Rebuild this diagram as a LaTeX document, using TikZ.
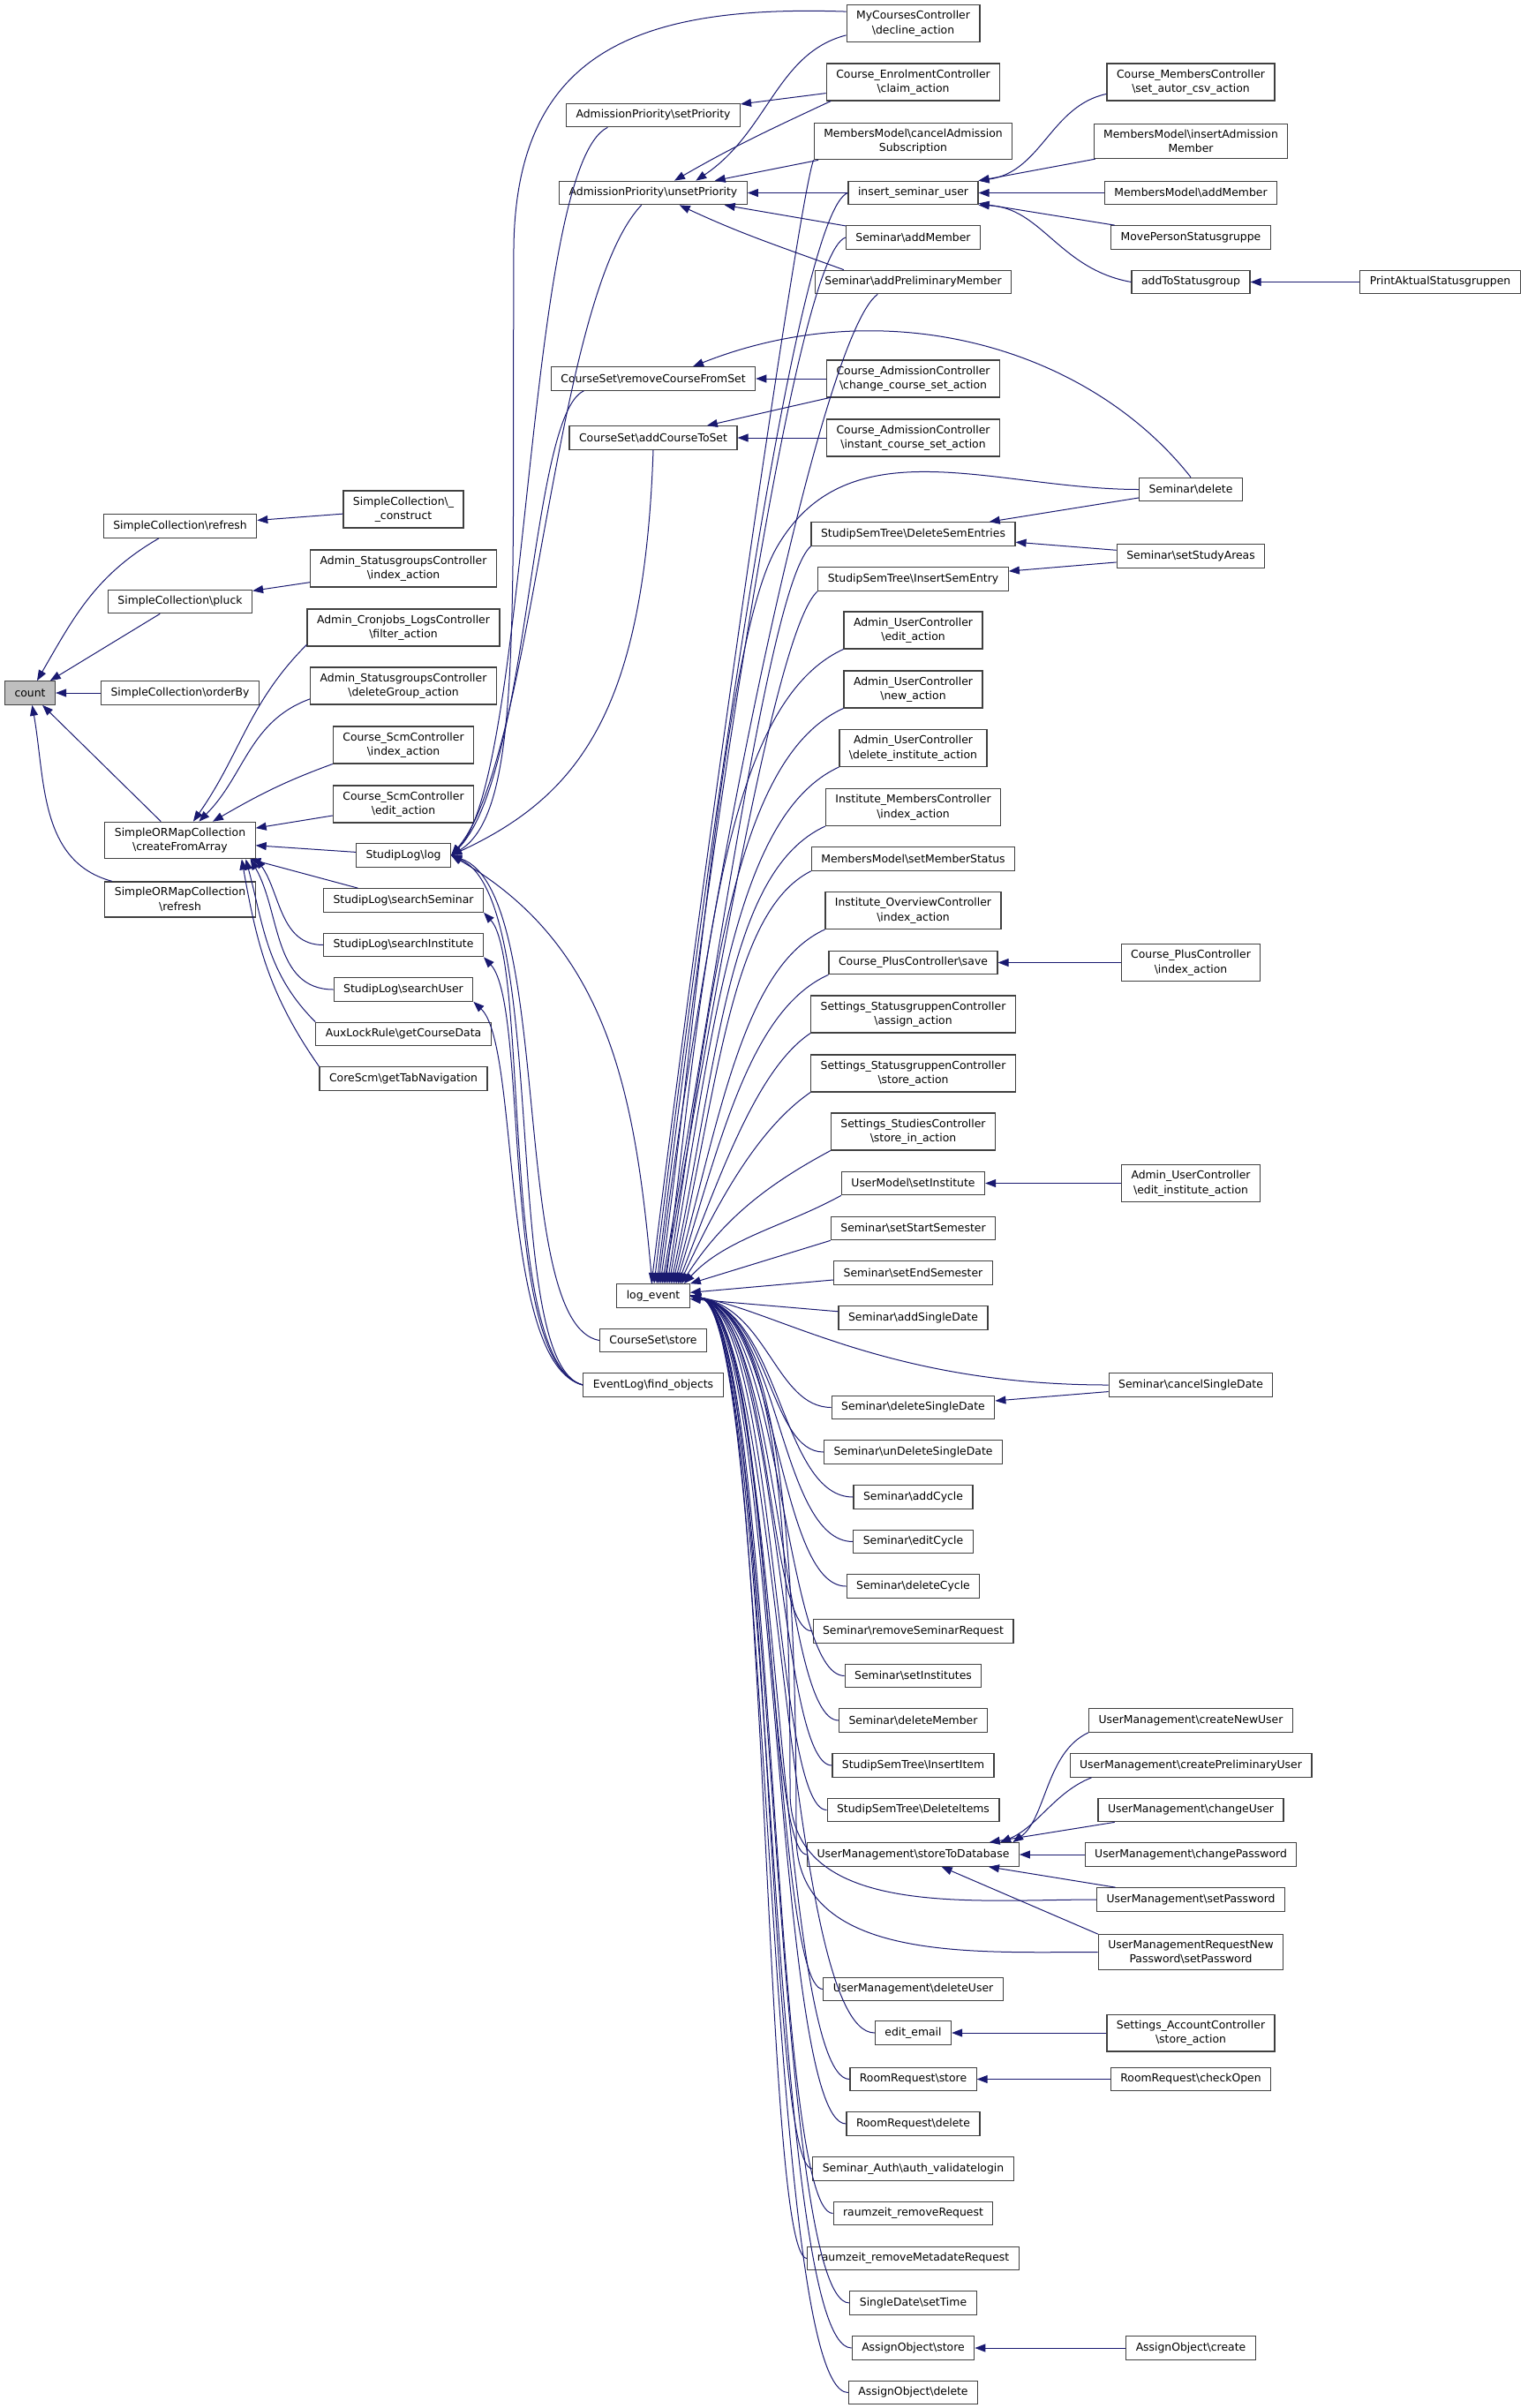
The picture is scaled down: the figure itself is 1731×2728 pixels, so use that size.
\documentclass[tikz,border=0pt]{standalone}
\usepackage{fontspec}
\setmainfont{DejaVu Sans}
\usepackage{tikz}
\usetikzlibrary{arrows.meta}
\definecolor{edgeblue}{HTML}{191970}
\definecolor{rootgray}{HTML}{BFBFBF}
\newcommand{\bsl}{\textbackslash}

\begin{document}
\begin{tikzpicture}[
    x=1pt, y=1pt,
    font=\fontsize{12.4}{16.5}\selectfont,
    fn/.style={draw=black!75, line width=1.2pt, fill=white, align=center,
               inner xsep=11pt, inner ysep=6.5pt, minimum height=26.5pt},
    root/.style={fn, fill=rootgray},
    call/.style={draw=edgeblue, line width=1pt, -{Triangle[length=12pt,width=9pt]}},
]
  \useasboundingbox (0,0) rectangle (1731,-2728);
  % Root
  \node[root] (cnt) at (34,-785) {count};
  % SimpleCollection / SimpleORMapCollection
  \node[fn] (scref) at (204,-596) {SimpleCollection\bsl refresh};
  \node[fn] (scpluck) at (204,-681.5) {SimpleCollection\bsl pluck};
  \node[fn] (scorder) at (204,-785) {SimpleCollection\bsl orderBy};
  \node[fn] (ormcfa) at (204,-952) {SimpleORMapCollection\\\bsl createFromArray};
  \node[fn] (ormref) at (204,-1019) {SimpleORMapCollection\\\bsl refresh};
  % Second column
  \node[fn] (scctor) at (457,-577) {SimpleCollection\bsl\_\\\_construct};
  \node[fn] (asgindex) at (457,-644) {Admin\_StatusgroupsController\\\bsl index\_action};
  \node[fn] (cronfilter) at (457,-711) {Admin\_Cronjobs\_LogsController\\\bsl filter\_action};
  \node[fn] (asgdelete) at (457,-777) {Admin\_StatusgroupsController\\\bsl deleteGroup\_action};
  \node[fn] (scmindex) at (457,-844) {Course\_ScmController\\\bsl index\_action};
  \node[fn] (scmedit) at (457,-911) {Course\_ScmController\\\bsl edit\_action};
  \node[fn] (slog) at (457,-969) {StudipLog\bsl log};
  \node[fn] (slseminar) at (457,-1020) {StudipLog\bsl searchSeminar};
  \node[fn] (slinst) at (457,-1070.5) {StudipLog\bsl searchInstitute};
  \node[fn] (sluser) at (457,-1121) {StudipLog\bsl searchUser};
  \node[fn] (auxlock) at (457,-1171.5) {AuxLockRule\bsl getCourseData};
  \node[fn] (corescm) at (457,-1222) {CoreScm\bsl getTabNavigation};
  % Third column
  \node[fn] (apset) at (740,-130.5) {AdmissionPriority\bsl setPriority};
  \node[fn] (apunset) at (740,-218.5) {AdmissionPriority\bsl unsetPriority};
  \node[fn] (csremove) at (740,-429) {CourseSet\bsl removeCourseFromSet};
  \node[fn] (csadd) at (740,-496) {CourseSet\bsl addCourseToSet};
  \node[fn] (logev) at (740,-1468) {log\_event};
  \node[fn] (csstore) at (740,-1518.5) {CourseSet\bsl store};
  \node[fn] (elfind) at (740,-1569) {EventLog\bsl find\_objects};
  % Fourth column
  \node[fn] (mcdecline) at (1034.5,-26.5) {MyCoursesController\\\bsl decline\_action};
  \node[fn] (ceclaim) at (1034.5,-93) {Course\_EnrolmentController\\\bsl claim\_action};
  \node[fn] (mmcancel) at (1034.5,-160) {MembersModel\bsl cancelAdmission\\Subscription};
  \node[fn] (insuser) at (1034.5,-218.5) {insert\_seminar\_user};
  \node[fn] (semaddm) at (1034.5,-269) {Seminar\bsl addMember};
  \node[fn] (semaddpm) at (1034.5,-319.5) {Seminar\bsl addPreliminaryMember};
  \node[fn] (cachange) at (1034.5,-429) {Course\_AdmissionController\\\bsl change\_course\_set\_action};
  \node[fn] (cainstant) at (1034.5,-496) {Course\_AdmissionController\\\bsl instant\_course\_set\_action};
  \node[fn] (sstdel) at (1034.5,-605) {StudipSemTree\bsl DeleteSemEntries};
  \node[fn] (sstins) at (1034.5,-656) {StudipSemTree\bsl InsertSemEntry};
  \node[fn] (auedit) at (1034.5,-714) {Admin\_UserController\\\bsl edit\_action};
  \node[fn] (aunew) at (1034.5,-781) {Admin\_UserController\\\bsl new\_action};
  \node[fn] (audelinst) at (1034.5,-847.5) {Admin\_UserController\\\bsl delete\_institute\_action};
  \node[fn] (imindex) at (1034.5,-914.5) {Institute\_MembersController\\\bsl index\_action};
  \node[fn] (mmsetstatus) at (1034.5,-973) {MembersModel\bsl setMemberStatus};
  \node[fn] (ioindex) at (1034.5,-1031.5) {Institute\_OverviewController\\\bsl index\_action};
  \node[fn] (cpsave) at (1034.5,-1090.5) {Course\_PlusController\bsl save};
  \node[fn] (ssgassign) at (1034.5,-1149) {Settings\_StatusgruppenController\\\bsl assign\_action};
  \node[fn] (ssgstore) at (1034.5,-1216) {Settings\_StatusgruppenController\\\bsl store\_action};
  \node[fn] (ssstore) at (1034.5,-1282) {Settings\_StudiesController\\\bsl store\_in\_action};
  \node[fn] (umsetinst) at (1034.5,-1340.5) {UserModel\bsl setInstitute};
  \node[fn] (semstart) at (1034.5,-1391.5) {Seminar\bsl setStartSemester};
  \node[fn] (semend) at (1034.5,-1442) {Seminar\bsl setEndSemester};
  \node[fn] (semaddsd) at (1034.5,-1493) {Seminar\bsl addSingleDate};
  \node[fn] (semdelsd) at (1034.5,-1594.5) {Seminar\bsl deleteSingleDate};
  \node[fn] (semundel) at (1034.5,-1645) {Seminar\bsl unDeleteSingleDate};
  \node[fn] (semaddc) at (1034.5,-1696) {Seminar\bsl addCycle};
  \node[fn] (semeditc) at (1034.5,-1746.5) {Seminar\bsl editCycle};
  \node[fn] (semdelc) at (1034.5,-1797) {Seminar\bsl deleteCycle};
  \node[fn] (semremreq) at (1034.5,-1848) {Seminar\bsl removeSeminarRequest};
  \node[fn] (semsetinst) at (1034.5,-1898.5) {Seminar\bsl setInstitutes};
  \node[fn] (semdelm) at (1034.5,-1949) {Seminar\bsl deleteMember};
  \node[fn] (sstinsitem) at (1034.5,-2000) {StudipSemTree\bsl InsertItem};
  \node[fn] (sstdelitems) at (1034.5,-2050.5) {StudipSemTree\bsl DeleteItems};
  \node[fn] (umstore) at (1034.5,-2101) {UserManagement\bsl storeToDatabase};
  \node[fn] (umdeluser) at (1034.5,-2253.5) {UserManagement\bsl deleteUser};
  \node[fn] (editemail) at (1034.5,-2303) {edit\_email};
  \node[fn] (rrstore) at (1034.5,-2355.5) {RoomRequest\bsl store};
  \node[fn] (rrdelete) at (1034.5,-2406) {RoomRequest\bsl delete};
  \node[fn] (sauth) at (1034.5,-2457) {Seminar\_Auth\bsl auth\_validatelogin};
  \node[fn] (rzremreq) at (1034.5,-2507.5) {raumzeit\_removeRequest};
  \node[fn] (rzremmeta) at (1034.5,-2558.5) {raumzeit\_removeMetadateRequest};
  \node[fn] (sdsettime) at (1034.5,-2609) {SingleDate\bsl setTime};
  \node[fn] (aostore) at (1034.5,-2660) {AssignObject\bsl store};
  \node[fn] (aodelete) at (1034.5,-2710.5) {AssignObject\bsl delete};
  % Fifth column
  \node[fn] (cmsetautor) at (1349,-93) {Course\_MembersController\\\bsl set\_autor\_csv\_action};
  \node[fn] (mminsert) at (1349,-160) {MembersModel\bsl insertAdmission\\Member};
  \node[fn] (mmaddm) at (1349,-218.5) {MembersModel\bsl addMember};
  \node[fn] (mpsg) at (1349,-269) {MovePersonStatusgruppe};
  \node[fn] (addsg) at (1349,-319.5) {addToStatusgroup};
  \node[fn] (semdel) at (1349,-554.5) {Seminar\bsl delete};
  \node[fn] (semstudy) at (1349,-630) {Seminar\bsl setStudyAreas};
  \node[fn] (cpindex) at (1349,-1090.5) {Course\_PlusController\\\bsl index\_action};
  \node[fn] (aueditinst) at (1349,-1340.5) {Admin\_UserController\\\bsl edit\_institute\_action};
  \node[fn] (semcancelsd) at (1349,-1569) {Seminar\bsl cancelSingleDate};
  \node[fn] (umcreate) at (1349,-1949) {UserManagement\bsl createNewUser};
  \node[fn] (umcreatepre) at (1349,-2000) {UserManagement\bsl createPreliminaryUser};
  \node[fn] (umchange) at (1349,-2050.5) {UserManagement\bsl changeUser};
  \node[fn] (umchangepw) at (1349,-2101) {UserManagement\bsl changePassword};
  \node[fn] (umsetpw) at (1349,-2152) {UserManagement\bsl setPassword};
  \node[fn] (umrnpsetpw) at (1349,-2211.5) {UserManagementRequestNew\\Password\bsl setPassword};
  \node[fn] (sastore) at (1349,-2303) {Settings\_AccountController\\\bsl store\_action};
  \node[fn] (rrcheck) at (1349,-2355.5) {RoomRequest\bsl checkOpen};
  \node[fn] (aocreate) at (1349,-2660) {AssignObject\bsl create};
  % Sixth column
  \node[fn] (pasg) at (1631.5,-319.5) {PrintAktualStatusgruppen};

  % count and SimpleCollection
  \draw[call] (scref) to[out=210, in=60] (cnt);
  \draw[call] (scpluck) -- (cnt);
  \draw[call] (scorder) -- (cnt);
  \draw[call] (ormcfa) -- (cnt);
  \draw[call] (ormref) to[out=165, in=-80] (cnt);
  \draw[call] (scctor) -- (scref);
  \draw[call] (asgindex) -- (scpluck);
  % createFromArray
  \draw[call] (cronfilter.190) to[out=225, in=55] (ormcfa);
  \draw[call] (asgdelete.188) to[out=200, in=45] (ormcfa);
  \draw[call] (scmindex.south west) to[out=200, in=30] (ormcfa);
  \draw[call] (scmedit) -- (ormcfa);
  \draw[call] (slog) -- (ormcfa);
  \draw[call] (slseminar) -- (ormcfa);
  \draw[call] (slinst.west) to[out=180, in=-55] (ormcfa.-13);
  \draw[call] (sluser.west) to[out=180, in=-60] (ormcfa.-15);
  \draw[call] (auxlock.north west) to[out=135, in=-75] (ormcfa.-16);
  \draw[call] (corescm.north west) to[out=125, in=-80] (ormcfa.-17);
  % StudipLog\log
  \draw[call] (mcdecline.170) .. controls (720,-5) and (585,-60) .. (582,-280)
                              .. controls (580,-700) and (592,-920) .. (slog.east);
  \draw[call] (apset.195) .. controls (595,-190) and (600,-880) .. (slog.east);
  \draw[call] (apunset.226) .. controls (625,-340) and (605,-860) .. (slog.east);
  \draw[call] (csremove.190) .. controls (600,-470) and (600,-880) .. (slog.east);
  \draw[call] (csadd.south) .. controls (730,-800) and (660,-900) .. (slog.east);
  \draw[call] (logev) to[out=95, in=-30] (slog.east);
  \draw[call] (csstore.west) .. controls (575,-1500) and (630,-1010) .. (slog.east);
  \draw[call] (elfind.west) .. controls (565,-1545) and (625,-1020) .. (slog.east);
  \draw[call] (elfind.west) .. controls (565,-1545) and (600,-1090) .. (slseminar.south east);
  \draw[call] (elfind.west) .. controls (565,-1545) and (600,-1140) .. (slinst.south east);
  \draw[call] (elfind.west) .. controls (565,-1545) and (590,-1185) .. (sluser.south east);
  % AdmissionPriority
  \draw[call] (ceclaim) -- (apset);
  \draw[call] (mcdecline.190) .. controls (880,-60) and (870,-150) .. (apunset.16);
  \draw[call] (ceclaim.193) to[out=205, in=30] (apunset);
  \draw[call] (mmcancel) -- (apunset);
  \draw[call] (insuser) -- (apunset);
  \draw[call] (semaddm) -- (apunset);
  \draw[call] (semaddpm.170) to[out=160, in=-25] (apunset);
  % insert_seminar_user
  \draw[call] (cmsetautor.188) .. controls (1190,-120) and (1180,-195) .. (insuser.north east);
  \draw[call] (mminsert) -- (insuser);
  \draw[call] (mmaddm) -- (insuser);
  \draw[call] (mpsg) -- (insuser);
  \draw[call] (addsg.west) .. controls (1200,-305) and (1180,-235) .. (insuser.south east);
  \draw[call] (pasg) -- (addsg);
  % CourseSet
  \draw[call] (semdel.north) .. controls (1230,-390) and (1000,-330) .. ([xshift=45pt]csremove.north);
  \draw[call] (cachange) -- (csremove);
  \draw[call] (cachange) -- (csadd);
  \draw[call] (cainstant) -- (csadd);
  % right hand callers
  \draw[call] (semdel) -- (sstdel);
  \draw[call] (semstudy) -- (sstdel);
  \draw[call] (semstudy) -- (sstins);
  \draw[call] (cpindex) -- (cpsave);
  \draw[call] (aueditinst) -- (umsetinst);
  \draw[call] (semcancelsd) -- (semdelsd);
  % UserManagement
  \draw[call] (umcreate.south west) .. controls (1185,-1985) and (1185,-2060) .. (umstore.7);
  \draw[call] ([xshift=25pt]umcreatepre.south west) .. controls (1195,-2030) and (1175,-2070) .. (umstore.8);
  \draw[call] (umchange) -- (umstore);
  \draw[call] (umchangepw) -- (umstore);
  \draw[call] (umsetpw) -- (umstore);
  \draw[call] (umrnpsetpw.north west) -- (umstore);
  \draw[call] (sastore) -- (editemail);
  \draw[call] (rrcheck) -- (rrstore);
  \draw[call] (aocreate) -- (aostore);
  % log_event, callers above
  \draw[call] (mmcancel.south west) .. controls (906,-219) and (799,-959) .. ([xshift=-2pt]logev.north);
  \draw[call] (insuser.west) .. controls (902,-239) and (802,-959) .. ([xshift=1pt]logev.north);
  \draw[call] (semaddm.west) .. controls (900,-289) and (802,-979) .. ([xshift=4pt]logev.north);
  \draw[call] (semaddpm.199) .. controls (930,-379) and (801,-1008) .. ([xshift=6pt]logev.north);
  \draw[call] (semdel.west) to[out=180, in=60] (880,-620)
                            .. controls (820,-724) and (790,-1158) .. ([xshift=8pt]logev.north);
  \draw[call] (sstdel.south west) .. controls (873,-660) and (816,-1081) .. ([xshift=10pt]logev.north);
  \draw[call] (sstins.south west) .. controls (880,-711) and (813,-1110) .. ([xshift=12pt]logev.north);
  \draw[call] (auedit.south west) .. controls (817,-799) and (797,-1108) .. ([xshift=14pt]logev.north);
  \draw[call] (aunew.south west) .. controls (826,-861) and (806,-1139) .. ([xshift=16pt]logev.north);
  \draw[call] (audelinst.south west) .. controls (831,-924) and (808,-1169) .. ([xshift=18pt]logev.north);
  \draw[call] (imindex.south west) .. controls (824,-987) and (814,-1201) .. ([xshift=20pt]logev.north);
  \draw[call] (mmsetstatus.south west) .. controls (827,-1033) and (814,-1231) .. ([xshift=22pt]logev.north);
  \draw[call] (ioindex.south west) .. controls (843,-1095) and (816,-1262) .. ([xshift=24pt]logev.north);
  \draw[call] (cpsave.south west) .. controls (850,-1144) and (816,-1292) .. ([xshift=26pt]logev.north);
  \draw[call] (ssgassign.south west) .. controls (859,-1210) and (818,-1324) .. ([xshift=28pt]logev.north);
  \draw[call] (ssgstore.south west) .. controls (861,-1277) and (816,-1355) .. ([xshift=30pt]logev.north);
  \draw[call] (ssstore.south west) .. controls (873,-1340) and (820,-1379) .. ([xshift=32pt]logev.north);
  \draw[call] (umsetinst.south west) .. controls (890,-1389) and (822,-1403) .. ([xshift=35pt]logev.north);
  \draw[call] (semstart.south west) -- (logev.north east);
  \draw[call] (semend) -- (logev);
  \draw[call] (semaddsd) -- (logev);
  % log_event, callers below
  \draw[call] (semcancelsd.west) .. controls (1003,-1569) and (880,-1485) .. (logev.east);
  \draw[call] (semdelsd.west) .. controls (879,-1594) and (870,-1484) .. (logev.east);
  \draw[call] (semundel.west) .. controls (872,-1645) and (872,-1486) .. (logev.east);
  \draw[call] (semaddc.west) .. controls (885,-1696) and (885,-1488) .. (logev.east);
  \draw[call] (semeditc.west) .. controls (882,-1746) and (884,-1487) .. (logev.east);
  \draw[call] (semdelc.west) .. controls (880,-1797) and (882,-1486) .. (logev.east);
  \draw[call] (semremreq.west) .. controls (868,-1848) and (875,-1484) .. (logev.east);
  \draw[call] (semsetinst.west) .. controls (888,-1898) and (886,-1488) .. (logev.east);
  \draw[call] (semdelm.west) .. controls (884,-1949) and (884,-1487) .. (logev.east);
  \draw[call] (sstinsitem.west) .. controls (880,-2000) and (882,-1486) .. (logev.east);
  \draw[call] (sstdelitems.west) .. controls (876,-2050) and (880,-1486) .. (logev.east);
  \draw[call] (umstore.west) .. controls (866,-2101) and (874,-1485) .. (logev.east);
  \draw[call] (umsetpw.west) to[out=180, in=-90] (895,-2030)
                             .. controls (895,-1800) and (888,-1488) .. (logev.east);
  \draw[call] (umrnpsetpw.west) to[out=180, in=-90] (902,-2080)
                                .. controls (902,-1800) and (890,-1489) .. (logev.east);
  \draw[call] (umdeluser.west) .. controls (874,-2253) and (878,-1486) .. (logev.east);
  \draw[call] (editemail.west) .. controls (886,-2303) and (884,-1487) .. (logev.east);
  \draw[call] (rrstore.west) .. controls (880,-2355) and (882,-1486) .. (logev.east);
  \draw[call] (rrdelete.west) .. controls (876,-2406) and (880,-1486) .. (logev.east);
  \draw[call] (sauth.west) .. controls (866,-2457) and (874,-1485) .. (logev.east);
  \draw[call] (rzremreq.west) .. controls (872,-2507) and (878,-1486) .. (logev.east);
  \draw[call] (rzremmeta.west) .. controls (862,-2558) and (872,-1485) .. (logev.east);
  \draw[call] (sdsettime.west) .. controls (872,-2609) and (878,-1486) .. (logev.east);
  \draw[call] (aostore.west) .. controls (868,-2660) and (876,-1485) .. (logev.east);
  \draw[call] (aodelete.west) .. controls (864,-2710) and (874,-1485) .. (logev.east);
\end{tikzpicture}
\end{document}
